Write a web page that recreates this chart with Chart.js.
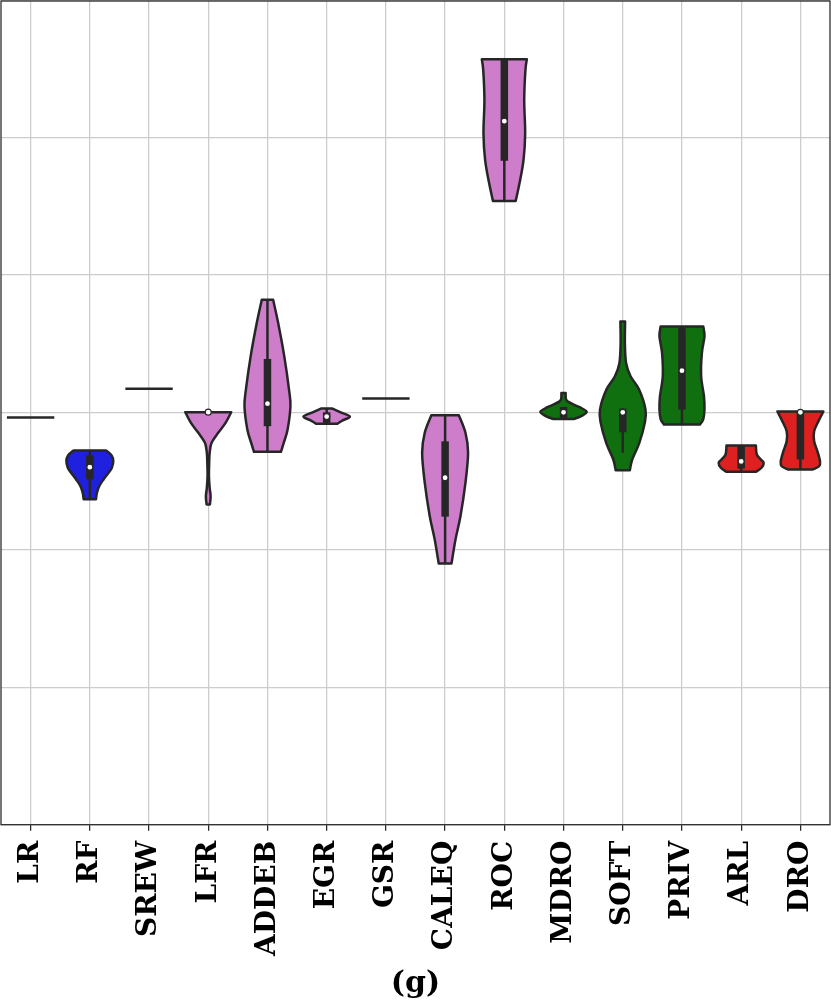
<!DOCTYPE html>
<html>
<head>
<meta charset="utf-8">
<script src="https://cdn.jsdelivr.net/npm/chart.js@4/dist/chart.umd.min.js"></script>
<style>
  html, body { margin: 0; padding: 0; background: #fff; }
  #wrap { width: 831px; height: 1002px; }
</style>
</head>
<body>
<div id="wrap"><canvas id="chart"></canvas></div>
<script>
// Categories (x axis)
const categories = ["LR", "RF", "SREW", "LFR", "ADDEB", "EGR", "GSR", "CALEQ", "ROC", "MDRO", "SOFT", "PRIV", "ARL", "DRO"];

// Violin outline: y levels (top -> bottom) and relative half widths (1 = full violin width)
const levels = [
  [2.961],
  [2.722, 2.685, 2.644, 2.596, 2.559, 2.511, 2.463, 2.414, 2.366],
  [3.171],
  [3.000, 2.922, 2.850, 2.777, 2.705, 2.634, 2.534, 2.450, 2.388, 2.329],
  [3.817, 3.650, 3.406, 3.164, 3.043, 2.874, 2.779, 2.712],
  [3.026, 2.997, 2.968, 2.939, 2.915],
  [3.099],
  [2.978, 2.850, 2.705, 2.487, 2.245, 2.075, 1.899],
  [5.566, 5.486, 5.269, 5.027, 4.833, 4.664, 4.536],
  [3.140, 3.095, 3.075, 3.050, 3.025, 3.003, 2.975, 2.951],
  [3.660, 3.503, 3.358, 3.261, 3.164, 3.019, 2.922, 2.777, 2.656, 2.578],
  [3.623, 3.551, 3.430, 3.261, 3.115, 3.019, 2.950, 2.910],
  [2.758, 2.692, 2.656, 2.632, 2.596, 2.566],
  [3.005, 2.933, 2.861, 2.788, 2.715, 2.642, 2.607, 2.583]
];
const widths = [
  [1],
  [0.68, 0.92, 0.99, 0.93, 0.79, 0.58, 0.40, 0.30, 0.26],
  [1],
  [0.97, 0.73, 0.42, 0.14, 0.06, 0.04, 0.03, 0.06, 0.10, 0.07],
  [0.24, 0.45, 0.71, 0.91, 0.97, 0.85, 0.69, 0.57],
  [0.24, 0.62, 0.98, 0.66, 0.44],
  [1],
  [0.58, 0.86, 0.97, 0.86, 0.65, 0.44, 0.27],
  [0.95, 0.89, 0.84, 0.88, 0.81, 0.64, 0.48],
  [0.09, 0.10, 0.20, 0.50, 0.80, 0.98, 0.79, 0.45],
  [0.10, 0.09, 0.14, 0.33, 0.69, 0.96, 0.93, 0.70, 0.40, 0.30],
  [0.90, 0.95, 0.84, 0.81, 0.93, 0.95, 0.90, 0.76],
  [0.62, 0.66, 0.83, 0.95, 0.86, 0.62],
  [0.97, 0.76, 0.58, 0.58, 0.72, 0.83, 0.79, 0.53]
];

// Inner box values
const medians     = [2.961, 2.600, 3.171, 3.000, 3.062, 2.968, 3.099, 2.523, 5.116, 2.999, 2.999, 3.302, 2.642, 2.999];
const q1          = [2.961, 2.511, 3.171, 3.000, 2.898, 2.922, 3.099, 2.240, 4.828, 2.958, 2.854, 3.019, 2.590, 2.656];
const q3          = [2.961, 2.685, 3.171, 3.000, 3.387, 2.999, 3.099, 2.788, 5.566, 3.038, 3.026, 3.611, 2.758, 3.005];
const whiskerLow  = [2.961, 2.366, 3.171, 3.000, 2.712, 2.915, 3.099, 1.899, 4.536, 2.958, 2.705, 2.910, 2.566, 2.583];
const whiskerHigh = [2.961, 2.722, 3.171, 3.000, 3.817, 3.026, 3.099, 2.978, 5.566, 3.038, 3.026, 3.623, 2.758, 3.005];

// Styles
const violinColors = [null, "#2020df", null, "#cd7dca", "#cd7dca", "#cd7dca", null, "#cd7dca", "#cd7dca", "#107010", "#107010", "#107010", "#df2020", "#df2020"];
const edge = "#262626";
const serif = "'DejaVu Serif', 'Liberation Serif', serif";

// smooth curve through points (Catmull-Rom)
function curveThrough(ctx, pts) {
  for (let i = 0; i < pts.length - 1; i++) {
    const p0 = pts[i - 1] || pts[i], p1 = pts[i], p2 = pts[i + 1], p3 = pts[i + 2] || p2;
    ctx.bezierCurveTo(
      p1.x + (p2.x - p0.x) / 6, p1.y + (p2.y - p0.y) / 6,
      p2.x - (p3.x - p1.x) / 6, p2.y - (p3.y - p1.y) / 6,
      p2.x, p2.y);
  }
}

const violinPlugin = {
  id: "violins",
  beforeDatasetsDraw(chart) {
    const { ctx, scales: { x, y } } = chart;
    const half = (x.getPixelForValue(1) - x.getPixelForValue(0)) * 0.4;
    ctx.save();
    ctx.strokeStyle = edge;
    ctx.lineJoin = "round";
    categories.forEach((name, i) => {
      const cx = x.getPixelForValue(i);
      const lv = levels[i], wd = widths[i];
      if (lv.length === 1) {
        const py = y.getPixelForValue(lv[0]);
        ctx.lineWidth = 2.5;
        ctx.beginPath();
        ctx.moveTo(cx - half * wd[0], py);
        ctx.lineTo(cx + half * wd[0], py);
        ctx.stroke();
        return;
      }
      const right = lv.map((v, k) => ({ x: cx + wd[k] * half, y: y.getPixelForValue(v) }));
      const left = right.map(p => ({ x: 2 * cx - p.x, y: p.y })).reverse();
      ctx.beginPath();
      ctx.moveTo(right[0].x, right[0].y);
      curveThrough(ctx, right);
      ctx.lineTo(left[0].x, left[0].y);
      curveThrough(ctx, left);
      ctx.closePath();
      ctx.fillStyle = violinColors[i];
      ctx.fill();
      ctx.lineWidth = 2.5;
      ctx.stroke();

      // whisker
      ctx.lineCap = "butt";
      ctx.beginPath();
      ctx.moveTo(cx, y.getPixelForValue(whiskerLow[i]));
      ctx.lineTo(cx, y.getPixelForValue(whiskerHigh[i]));
      ctx.stroke();
      // box
      if (q3[i] > q1[i]) {
        ctx.lineWidth = 7.5;
        ctx.beginPath();
        ctx.moveTo(cx, y.getPixelForValue(q1[i]));
        ctx.lineTo(cx, y.getPixelForValue(q3[i]));
        ctx.stroke();
      }
    });
    ctx.restore();
  },
  afterDraw(chart) {
    const { ctx, chartArea: a } = chart;
    ctx.save();
    ctx.strokeStyle = edge;
    ctx.lineWidth = 1.25;
    ctx.strokeRect(a.left, a.top, a.right - a.left, a.bottom - a.top);
    ctx.restore();
  }
};

new Chart(document.getElementById("chart"), {
  type: "line",
  data: {
    labels: categories,
    datasets: [{
      label: "median",
      data: medians.map((m, i) => (levels[i].length > 1 ? m : null)),
      showLine: false,
      pointRadius: 3,
      pointBackgroundColor: "#ffffff",
      pointBorderColor: edge,
      pointBorderWidth: 1.2,
      clip: false
    }]
  },
  options: {
    responsive: true,
    maintainAspectRatio: false,
    animation: false,
    layout: { autoPadding: false, padding: { left: 1, right: 1, top: 1, bottom: 0 } },
    plugins: { legend: { display: false }, tooltip: { enabled: false } },
    scales: {
      x: {
        type: "category",
        offset: true,
        grid: { offset: false, color: "#cccccc", lineWidth: 1.25, tickLength: 6, tickColor: edge, tickWidth: 1.25 },
        border: { display: false },
        ticks: {
          autoSkip: false, minRotation: 90, maxRotation: 90, padding: 10,
          color: "#000000",
          font: { family: serif, weight: "bold", size: 28 }
        },
        title: {
          display: true, text: "(g)", color: "#000000",
          font: { family: serif, weight: "bold", size: 30 },
          padding: { top: 0, bottom: 0 }
        },
        afterFit: s => { s.paddingLeft = 0; s.paddingRight = 0; }
      },
      y: {
        min: 0, max: 5.99,
        ticks: { display: false, stepSize: 1 },
        grid: { color: "#cccccc", lineWidth: 1.25, drawTicks: false },
        border: { display: false },
        afterFit: s => { s.width = 0; s.paddingTop = 0; s.paddingBottom = 0; }
      }
    }
  },
  plugins: [violinPlugin]
});
</script>
</body>
</html>
